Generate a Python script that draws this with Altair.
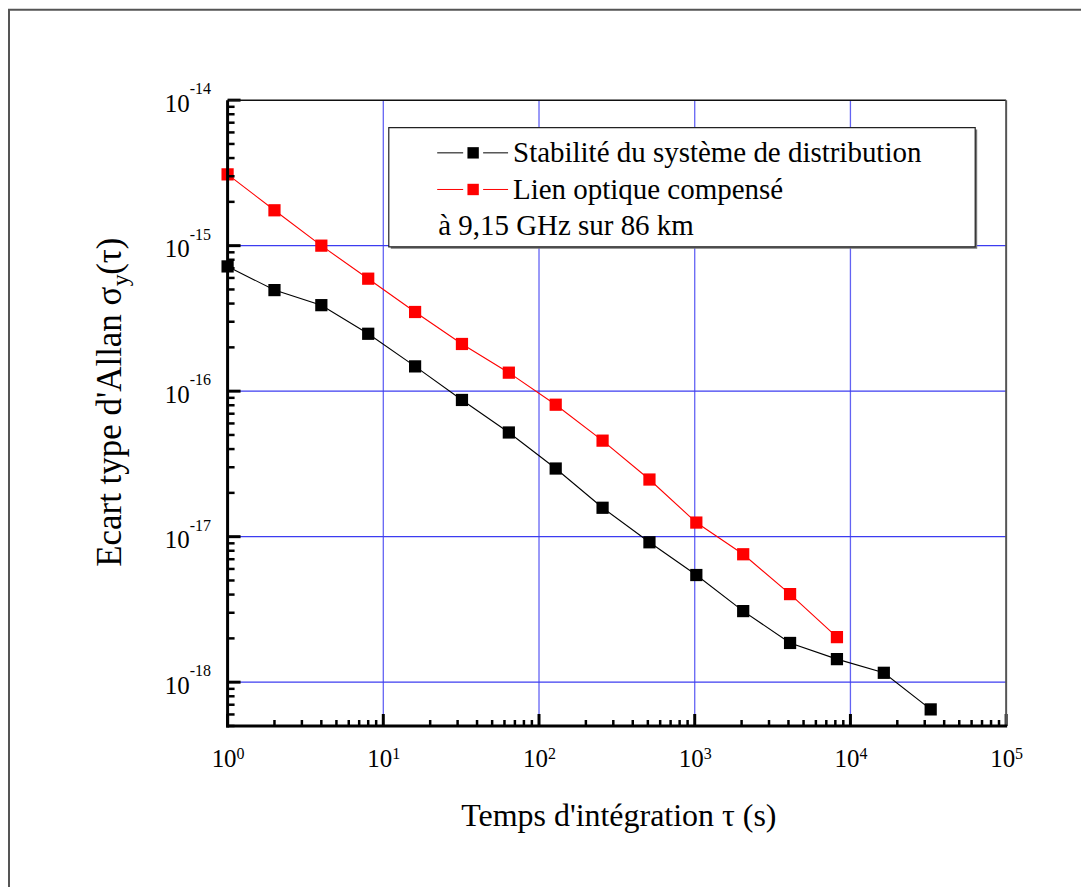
import altair as alt
import pandas as pd

# ---------------- data ----------------
tau_black = [1, 2, 4, 8, 16, 32, 64, 128, 256, 512, 1024, 2048, 4096, 8192, 16384, 32768]
sigma_black = [7.2e-16, 4.95e-16, 3.9e-16, 2.48e-16, 1.48e-16, 8.7e-17, 5.2e-17, 2.94e-17,
               1.58e-17, 9.15e-18, 5.45e-18, 3.08e-18, 1.86e-18, 1.44e-18, 1.16e-18, 6.5e-19]
tau_red = [1, 2, 4, 8, 16, 32, 64, 128, 256, 512, 1024, 2048, 4096, 8192]
sigma_red = [3.09e-15, 1.75e-15, 1.0e-15, 5.93e-16, 3.5e-16, 2.11e-16, 1.34e-16, 8.07e-17,
             4.57e-17, 2.47e-17, 1.25e-17, 7.57e-18, 4.03e-18, 2.04e-18]

series_names = ["Stabilité du système de distribution", "Lien optique compensé"]
series_colors = ["#000000", "#ff0000"]
legend_note = "à 9,15 GHz sur 86 km"
x_title = "Temps d'intégration τ (s)"
y_title_main = "Ecart type d'Allan σ"
y_title_sub = "y"
y_title_end = "(τ)"

x_major = [1, 10, 100, 1000, 10000, 100000]
x_major_exp = ["0", "1", "2", "3", "4", "5"]
y_major = [1e-14, 1e-15, 1e-16, 1e-17, 1e-18]
y_major_exp = ["-14", "-15", "-16", "-17", "-18"]
x_grid = [10, 100, 1000, 10000]
y_grid = [1e-15, 1e-16, 1e-17, 1e-18]
x_minor = [k * 10 ** d for d in range(0, 5) for k in range(2, 10)]
y_minor = [k * 10.0 ** d for d in range(-19, -14) for k in range(2, 10) if k * 10.0 ** d >= 4.99e-19]

# ---------------- layout ----------------
W, H = 780, 627
FONT = "Liberation Serif"
xs = alt.Scale(type="log", domain=[1, 1e5], nice=False)
ys = alt.Scale(type="log", domain=[5e-19, 1e-14], nice=False)

one = pd.DataFrame({"t": [""]})


def txt(text, x, y, size, align="left", angle=0, color="black"):
    kw = dict(font=FONT, fontSize=size, align=align, baseline="alphabetic", color=color)
    if angle:
        kw["angle"] = angle
    return alt.Chart(pd.DataFrame({"t": [text]})).mark_text(**kw).encode(
        text="t:N", x=alt.value(x), y=alt.value(y))


def xrule(x1, x2, y, color, width):
    return alt.Chart(one).mark_rule(color=color, strokeWidth=width).encode(
        x=alt.value(x1), x2=alt.value(x2), y=alt.value(y))


def yrule(y1, y2, x, color, width):
    return alt.Chart(one).mark_rule(color=color, strokeWidth=width).encode(
        y=alt.value(y1), y2=alt.value(y2), x=alt.value(x))


layers = []

# outer frame
layers.append(alt.Chart(one).mark_rect(fill="white", fillOpacity=0, stroke="#555555", strokeWidth=2).encode(
    x=alt.value(-219), x2=alt.value(880), y=alt.value(-90.5), y2=alt.value(820)))

# grid
grid_col = "#3c3cf0"
layers.append(alt.Chart(pd.DataFrame({"v": x_grid})).mark_rule(color=grid_col, strokeWidth=1.3, opacity=0.8).encode(
    x=alt.X("v:Q", scale=xs, axis=None)))
layers.append(alt.Chart(pd.DataFrame({"v": y_grid})).mark_rule(color=grid_col, strokeWidth=1.3).encode(
    y=alt.Y("v:Q", scale=ys, axis=None)))

# legend box
layers.append(alt.Chart(one).mark_rect(fill="#777777").encode(
    x=alt.value(163.5), x2=alt.value(751), y=alt.value(29.5), y2=alt.value(149)))
layers.append(alt.Chart(one).mark_rect(fill="white", stroke="#222222", strokeWidth=1.2).encode(
    x=alt.value(161.5), x2=alt.value(749), y=alt.value(27.5), y2=alt.value(147)))
leg_rows_y = [52.8, 89.5]
leg_base_y = [62, 99]
for name, col, ly, by in zip(series_names, series_colors, leg_rows_y, leg_base_y):
    layers.append(xrule(210, 236, ly, col, 1))
    layers.append(xrule(256, 281, ly, col, 1))
    layers.append(alt.Chart(one).mark_point(shape="square", filled=True, size=130, color=col, opacity=1).encode(
        x=alt.value(246), y=alt.value(ly)))
    layers.append(txt(name, 286, by, 29))
layers.append(txt(legend_note, 211, 135.5, 29))

# series
for taus, sig, col in [(tau_black, sigma_black, "#000000"), (tau_red, sigma_red, "#ff0000")]:
    d = pd.DataFrame({"tau": taus, "sigma": sig})
    base = alt.Chart(d).encode(
        x=alt.X("tau:Q", scale=xs, axis=None),
        y=alt.Y("sigma:Q", scale=ys, axis=None))
    layers.append(base.mark_line(color=col, strokeWidth=1.1))
    layers.append(base.mark_point(shape="square", filled=True, size=150, color=col, opacity=1))

# ticks (inward)
layers.append(alt.Chart(pd.DataFrame({"v": y_minor})).mark_rule(color="black", strokeWidth=2.5).encode(
    y=alt.Y("v:Q", scale=ys, axis=None), x=alt.value(0), x2=alt.value(7)))
layers.append(alt.Chart(pd.DataFrame({"v": y_major})).mark_rule(color="black", strokeWidth=3).encode(
    y=alt.Y("v:Q", scale=ys, axis=None), x=alt.value(0), x2=alt.value(13)))
layers.append(alt.Chart(pd.DataFrame({"v": x_minor})).mark_rule(color="black", strokeWidth=2.5).encode(
    x=alt.X("v:Q", scale=xs, axis=None), y=alt.value(H - 6), y2=alt.value(H)))
layers.append(alt.Chart(pd.DataFrame({"v": x_major})).mark_rule(color="black", strokeWidth=3).encode(
    x=alt.X("v:Q", scale=xs, axis=None), y=alt.value(H - 12), y2=alt.value(H)))

# borders
layers.append(xrule(0, W, 0, "#111111", 1.5))
layers.append(yrule(0, H, W, "#555555", 2))
layers.append(yrule(0, H + 1.5, 0, "black", 3))
layers.append(xrule(-1.5, W + 1, H, "black", 3))

# tick labels
ylab = pd.DataFrame({"v": y_major, "e": y_major_exp, "b": ["10"] * len(y_major)})
layers.append(alt.Chart(ylab).mark_text(font=FONT, fontSize=25, align="right", baseline="alphabetic", dy=11.5).encode(
    y=alt.Y("v:Q", scale=ys, axis=None), x=alt.value(-38), text="b:N"))
layers.append(alt.Chart(ylab).mark_text(font=FONT, fontSize=16, align="left", baseline="alphabetic", dy=-6).encode(
    y=alt.Y("v:Q", scale=ys, axis=None), x=alt.value(-38), text="e:N"))
xlab = pd.DataFrame({"v": x_major, "e": x_major_exp, "b": ["10"] * len(x_major)})
layers.append(alt.Chart(xlab).mark_text(font=FONT, fontSize=25, align="right", baseline="alphabetic", dx=9).encode(
    x=alt.X("v:Q", scale=xs, axis=None), y=alt.value(668.5), text="b:N"))
layers.append(alt.Chart(xlab).mark_text(font=FONT, fontSize=16, align="left", baseline="alphabetic", dx=9).encode(
    x=alt.X("v:Q", scale=xs, axis=None), y=alt.value(660), text="e:N"))

# axis titles
layers.append(txt(x_title, 392, 727.5, 32, align="center"))
layers.append(txt(y_title_main, -106.5, 467.5, 35, angle=270))
layers.append(txt(y_title_sub, -99.5, 186.5, 24, angle=270))
layers.append(txt(y_title_end, -106.5, 175, 35, angle=270))

chart = alt.layer(*layers).properties(
    width=W, height=H,
    autosize=alt.AutoSizeParams(type="none"),
    padding={"left": 220, "top": 91.5, "right": 75, "bottom": 160},
).configure_view(strokeWidth=0)

chart.save("out.html", embed_options={"renderer": "svg", "actions": False})
